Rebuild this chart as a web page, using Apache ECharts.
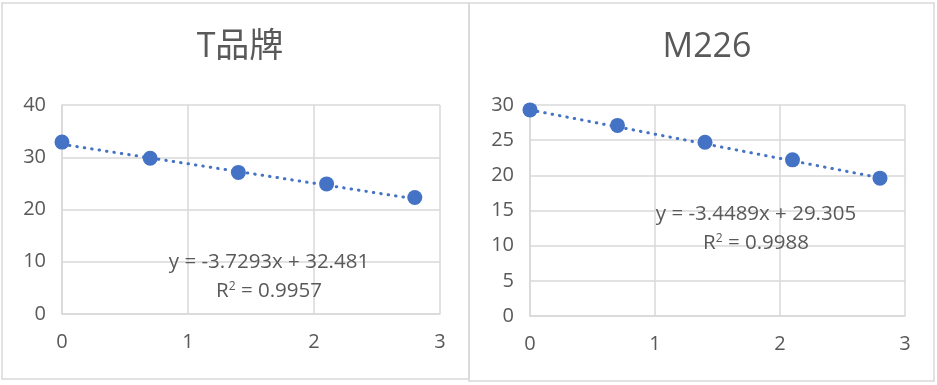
<!DOCTYPE html>
<html><head><meta charset="utf-8">
<script src="https://cdn.jsdelivr.net/npm/echarts@6/dist/echarts.min.js"></script>
<style>html,body{margin:0;padding:0;background:#fff}#c{width:937px;height:385px}</style>
</head><body><div id="c"></div>
<script>
const titles = ['T品牌', 'M226'];
const xValues = [0, 0.7, 1.4, 2.1, 2.8];
const tValues = [32.9, 29.8, 27.1, 24.9, 22.3];
const mValues = [29.3, 27.1, 24.7, 22.2, 19.6];
const tTrend = { slope: -3.7293, intercept: 32.481, r2: '0.9957' };
const mTrend = { slope: -3.4489, intercept: 29.305, r2: '0.9988' };
const xTicks = [0, 1, 2, 3];
const tYMax = 40, tYStep = 10;
const mYMax = 30, mYStep = 5;

const FONT = '"Open Sans", "Noto Sans CJK SC", sans-serif';
const TXT = '#595959';
const GRID = '#D9D9D9';
const BLUE = '#4472C4';

function pts(xs, ys){ return xs.map((x,i)=>[x, ys[i]]); }
function trendPts(t){ const x0 = xValues[0], x1 = xValues[xValues.length-1];
  return [[x0, t.slope*x0 + t.intercept],[x1, t.slope*x1 + t.intercept]]; }
function eqText(t){ return 'y = ' + t.slope.toFixed(4) + 'x + ' + t.intercept.toFixed(3); }

function xAxis(gi){ return { type:'value', gridIndex:gi, min:xTicks[0], max:xTicks[xTicks.length-1], interval:1,
  axisLine:{show:true, lineStyle:{color:GRID, width:1.5}}, axisTick:{show:false},
  splitLine:{show:true, lineStyle:{color:GRID, width:1.5}},
  axisLabel:{color:TXT, fontSize:20, fontFamily:FONT, margin:18} }; }
function yAxis(gi, max, step){ return { type:'value', gridIndex:gi, min:0, max:max, interval:step,
  axisLine:{show:true, lineStyle:{color:GRID, width:1.5}}, axisTick:{show:false},
  splitLine:{show:true, lineStyle:{color:GRID, width:1.5}},
  axisLabel:{color:TXT, fontSize:20, fontFamily:FONT, margin:16} }; }
function r2Title(t, left, top){ return {text:'{a|R}{s|2}{a| = ' + t.r2 + '}', left:left, top:top, textAlign:'center',
  textStyle:{rich:{a:{color:TXT, fontSize:20.5, fontWeight:'normal', fontFamily:FONT},
                   s:{color:TXT, fontSize:12, fontWeight:'normal', fontFamily:FONT, verticalAlign:'top', padding:[0,0,9,0]}}}}; }
function eqTitle(t, left, top){ return {text:eqText(t), left:left, top:top, textAlign:'center',
  textStyle:{color:TXT, fontSize:20.5, fontWeight:'normal', fontFamily:FONT}}; }

const chart = echarts.init(document.getElementById('c'), null, {renderer:'canvas'});
chart.setOption({
  animation:false,
  backgroundColor:'#fff',
  graphic:[
    {type:'rect', shape:{x:2, y:3, width:467, height:376}, style:{fill:'none', stroke:GRID, lineWidth:1.5}, z:-1},
    {type:'rect', shape:{x:469, y:3, width:465, height:378}, style:{fill:'none', stroke:GRID, lineWidth:1.5}, z:-1}
  ],
  title:[
    {text:titles[0], left:235, top:25, textAlign:'center', textStyle:{color:TXT, fontSize:34, fontWeight:'normal', fontFamily:FONT}},
    {text:titles[1], left:702, top:25, textAlign:'center', textStyle:{color:TXT, fontSize:34, fontWeight:'normal', fontFamily:FONT}},
    eqTitle(tTrend, 264, 247),
    r2Title(tTrend, 264, 276),
    eqTitle(mTrend, 751, 199),
    r2Title(mTrend, 751, 228)
  ],
  grid:[
    {left:62, top:105, width:378, height:209},
    {left:530, top:105, width:375, height:211}
  ],
  xAxis:[xAxis(0), xAxis(1)],
  yAxis:[yAxis(0, tYMax, tYStep), yAxis(1, mYMax, mYStep)],
  series:[
    {type:'line', xAxisIndex:0, yAxisIndex:0, data:trendPts(tTrend), showSymbol:false, symbol:'none',
      lineStyle:{color:BLUE, width:3, type:[0.5,7], cap:'round'}, z:2},
    {type:'scatter', xAxisIndex:0, yAxisIndex:0, data:pts(xValues, tValues), symbolSize:15, itemStyle:{color:BLUE, opacity:1}, z:3},
    {type:'line', xAxisIndex:1, yAxisIndex:1, data:trendPts(mTrend), showSymbol:false, symbol:'none',
      lineStyle:{color:BLUE, width:3, type:[0.5,7], cap:'round'}, z:2},
    {type:'scatter', xAxisIndex:1, yAxisIndex:1, data:pts(xValues, mValues), symbolSize:15, itemStyle:{color:BLUE, opacity:1}, z:3}
  ]
});
</script></body></html>
